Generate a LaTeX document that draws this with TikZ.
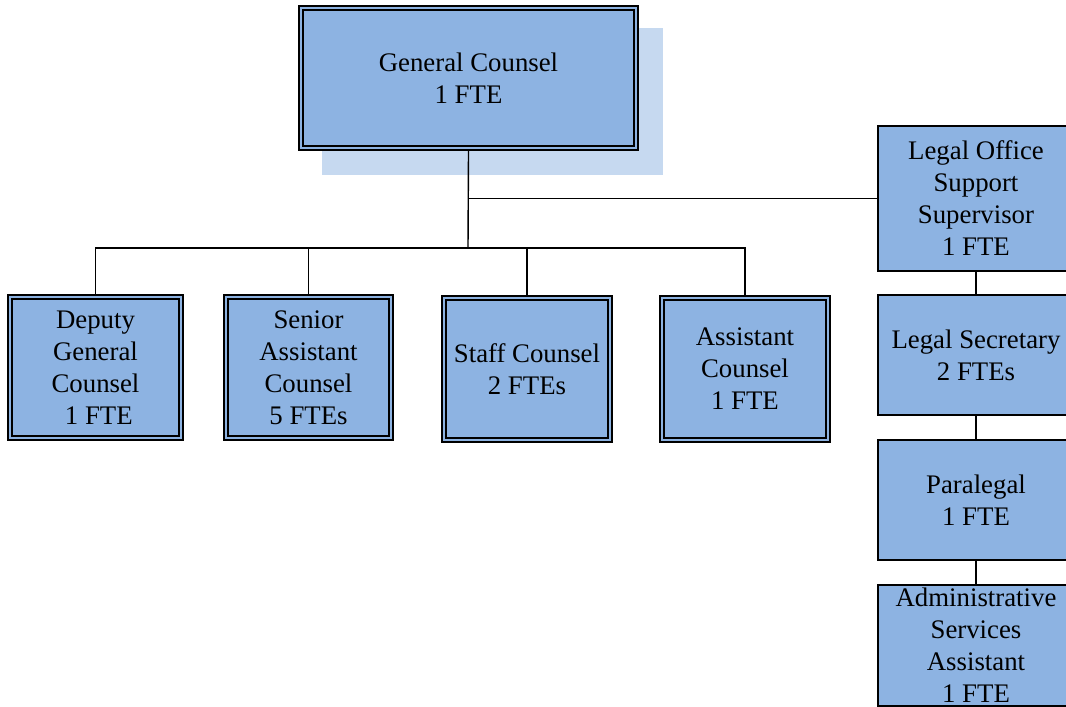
\documentclass[tikz,border=0pt]{standalone}
\usepackage{fontspec}
\setmainfont{Liberation Serif}
\definecolor{boxblue}{HTML}{8DB3E2}
\definecolor{shadowblue}{HTML}{C6D9F0}
\begin{document}
\begin{tikzpicture}[x=0.5pt,y=-0.5pt,
  every node/.style={font=\fontsize{13.4}{16}\selectfont, align=center, inner sep=0pt},
  unitbox/.style={fill=boxblue, draw=black, line width=1pt,
    path picture={\draw[line width=1pt]
      ([shift={(2.2pt,-2.2pt)}]path picture bounding box.north west) rectangle
      ([shift={(-2.2pt,2.2pt)}]path picture bounding box.south east);}},
  staffbox/.style={fill=boxblue, draw=black, line width=0.75pt},
  link/.style={draw=black, line width=0.7pt}
]
\useasboundingbox (0,0) rectangle (1066,707);
\clip (0,0) rectangle (1066,707);

% offset shadow behind the top box
\fill[shadowblue] (322,28) rectangle (663,175);

% top of the chart
\node[unitbox, minimum width=169.5pt, minimum height=72pt] (gc) at (468.5,78)
  {General Counsel\\1 FTE};

% attorney units
\node[unitbox, minimum width=87.5pt, minimum height=72.5pt] (dgc) at (95.5,367.5)
  {Deputy\\General\\Counsel\\\ 1 FTE};
\node[unitbox, minimum width=84.5pt, minimum height=72.5pt] (sac) at (308.5,367.5)
  {Senior\\Assistant\\Counsel\\5 FTEs};
\node[unitbox, minimum width=85pt, minimum height=73pt] (sc) at (527,369)
  {Staff Counsel\\2 FTEs};
\node[unitbox, minimum width=85pt, minimum height=73pt] (ac) at (745,369)
  {Assistant\\Counsel\\1 FTE};

% support staff column
\node[staffbox, minimum width=98pt, minimum height=72.5pt] (loss) at (976,198.5)
  {Legal Office\\Support\\Supervisor\\1 FTE};
\node[staffbox, minimum width=98pt, minimum height=60pt] (ls) at (976,355)
  {Legal Secretary\\2 FTEs};
\node[staffbox, minimum width=98pt, minimum height=60pt] (pl) at (976,500)
  {Paralegal\\1 FTE};
\node[staffbox, minimum width=98pt, minimum height=60.5pt] (asa) at (976,645.5)
  {Administrative\\Services\\Assistant\\1 FTE};

% reporting lines
\coordinate (bar) at (468,248);
\draw[link] (gc.south) -- (bar);
\draw[link] (loss.west) -- (loss.west -| gc.south);
\draw[link] (bar) -| (dgc.north);
\draw[link] (bar) -| (sac.north);
\draw[link] (bar) -| (sc.north);
\draw[link] (bar) -| (ac.north);
\draw[link] (loss.south) -- (ls.north);
\draw[link] (ls.south) -- (pl.north);
\draw[link] (pl.south) -- (asa.north);
\end{tikzpicture}
\end{document}
